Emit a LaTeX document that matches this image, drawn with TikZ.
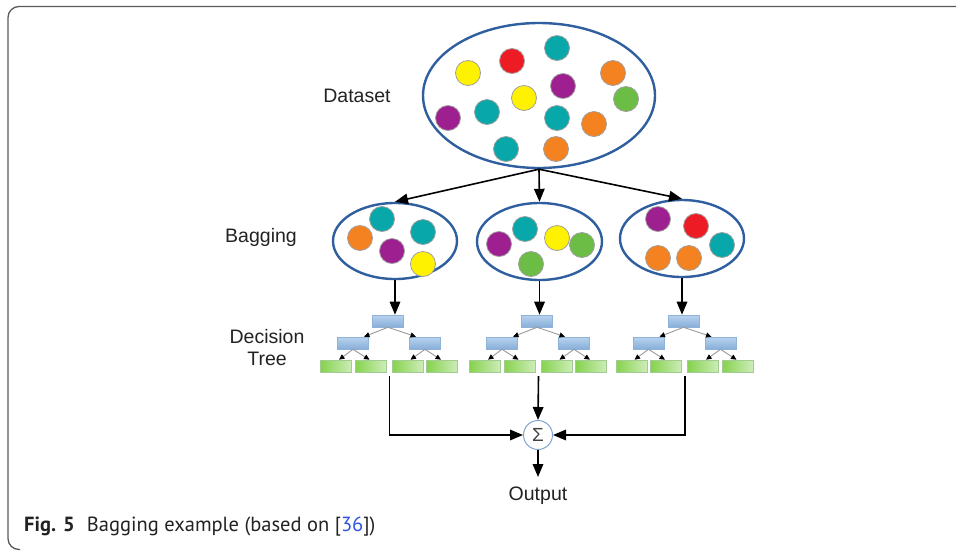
\documentclass[tikz,border=0pt]{standalone}
\usepackage{fontspec}
\setmainfont{Liberation Sans}
\newfontfamily\capfont{PT Sans}
\usetikzlibrary{shapes.geometric,arrows.meta,calc}

\definecolor{ringblue}{HTML}{2F5F9E}
\definecolor{cyel}{HTML}{FFF200}
\definecolor{cred}{HTML}{ED1C24}
\definecolor{cteal}{HTML}{08A8AA}
\definecolor{corg}{HTML}{F58220}
\definecolor{cpur}{HTML}{9E1F8F}
\definecolor{cgrn}{HTML}{6CBD45}
\definecolor{btop}{HTML}{B9D3EE}
\definecolor{bbot}{HTML}{86AEDA}
\definecolor{bedge}{HTML}{8FB2D6}
\definecolor{gleft}{HTML}{86D24E}
\definecolor{gright}{HTML}{CDEDB8}
\definecolor{gedge}{HTML}{A3CC93}
\definecolor{sigedge}{HTML}{7FA6D2}
\definecolor{txt}{HTML}{222222}
\definecolor{capblue}{HTML}{2F55E0}
\definecolor{framegray}{HTML}{5A5A5A}

\tikzset{
  pool/.style={ellipse, draw=ringblue, line width=2.4pt, fill=white, inner sep=0pt},
  dot/.style={circle, draw=gray!75, line width=0.8pt, minimum size=25pt, inner sep=0pt},
  innerbox/.style={rectangle, draw=bedge, line width=0.6pt, top color=btop, bottom color=bbot,
    minimum width=31pt, minimum height=12pt, inner sep=0pt},
  leafbox/.style={rectangle, draw=gedge, line width=0.6pt, left color=gleft, right color=gright,
    minimum width=31pt, minimum height=12pt, inner sep=0pt},
  treearr/.style={draw=gray!80, line width=0.9pt, -{Triangle[length=5.5pt,width=5pt,black]}},
  arr/.style={draw=black, line width=1.6pt, -{Triangle[length=13pt,width=10.5pt]}},
  label/.style={font=\fontsize{19.5}{22}\selectfont, text=txt, align=center},
}

% one decision tree: #1 = name prefix, #2 = x of its root
\newcommand\dectree[2]{%
  \node[innerbox] (#1r) at (#2,321) {};
  \node[innerbox] (#1a) at (#2-35,343) {};
  \node[innerbox] (#1b) at (#2+37,343) {};
  \node[leafbox] (#1l1) at (#2-52,366) {};
  \node[leafbox] (#1l2) at (#2-17.5,366) {};
  \node[leafbox] (#1l3) at (#2+19.5,366) {};
  \node[leafbox] (#1l4) at (#2+54,366) {};
  \draw[treearr] (#1r.south) -- ([xshift=11pt]#1a.north);
  \draw[treearr] (#1r.south) -- ([xshift=-9pt]#1b.north);
  \draw[treearr] (#1a.south) -- ([xshift=3pt]#1l1.north);
  \draw[treearr] (#1a.south) -- ([xshift=-1pt]#1l2.north);
  \draw[treearr] (#1b.south) -- ([xshift=3pt]#1l3.north);
  \draw[treearr] (#1b.south) -- ([xshift=-1pt]#1l4.north);
  \coordinate (#1o) at (#2+1.5,376);
}

\begin{document}
\begin{tikzpicture}[x=1pt,y=-1pt]
\useasboundingbox (0,0) rectangle (956,550);

% figure frame (open on the right)
\draw[framegray, line width=1.3pt, rounded corners=11pt] (956,6.5) -- (8,6.5) -- (8,549.5) -- (20,549.5);

% dataset
\node[pool, minimum width=232pt, minimum height=145pt] (ds) at (539,95.5) {};
\foreach \x/\y/\c [count=\i] in {
  468/73/cyel, 512/61/cred, 557/48/cteal, 613/73/corg, 563/86/cpur,
  626/99/cgrn, 524/98/cyel, 487/112/cteal, 448/118/cpur, 557/118/cteal,
  594/124/corg, 506/149/cteal, 556/149/corg}
  \node[dot, fill=\c] (dsd\i) at (\x,\y) {};

% bootstrap samples
\node[pool, minimum width=124pt, minimum height=76pt] (b1) at (395,241) {};
\node[pool, minimum width=125pt, minimum height=77pt] (b2) at (539.5,241.5) {};
\node[pool, minimum width=124pt, minimum height=77pt] (b3) at (682,238.5) {};

\foreach \x/\y/\c [count=\i] in {
  382/219/cteal, 360/238/corg, 423/232/cteal, 392/251/cpur, 423/264/cyel}
  \node[dot, fill=\c] (bda\i) at (\x,\y) {};
\foreach \x/\y/\c [count=\i] in {
  499/244/cpur, 525/229/cteal, 557/238/cyel, 582/245/cgrn, 531/264/cgrn}
  \node[dot, fill=\c] (bdb\i) at (\x,\y) {};
\foreach \x/\y/\c [count=\i] in {
  658/219/cpur, 696/226/cred, 722/245/cteal, 658/258/corg, 689/258/corg}
  \node[dot, fill=\c] (bdc\i) at (\x,\y) {};

\draw[arr] (ds.south) -- (b1.north);
\draw[arr] (ds.south) -- (b2.north);
\draw[arr] (ds.south) -- (b3.north);

% decision trees
\dectree{L}{388}
\dectree{M}{537}
\dectree{R}{683.5}

\draw[arr] (b1.south) -- (b1.south |- Lr.north);
\draw[arr] (b2.south) -- (b2.south |- Mr.north);
\draw[arr] (b3.south) -- (b3.south |- Rr.north);

% aggregation
\node[circle, draw=sigedge, line width=1pt, fill=white, minimum size=29pt, inner sep=0pt,
      text=txt!85, font=\fontsize{19}{20}\selectfont] (sig) at (538,435) {Σ};
\draw[arr] (Mo) -- (sig.north);
\draw[arr] (Lo) |- (sig.west);
\draw[arr] (Ro) |- (sig.east);
\coordinate (outtip) at (538,477);
\draw[arr] (sig.south) -- (outtip);

% labels
\node[label] (tds) at (357,96) {Dataset};
\node[label] (tbag) at (261,237) {Bagging};
\node[label] (tdt) at (267,348) {Decision\\Tree};
\node[label] (tout) at (538,496) {Output};

% caption
\node[anchor=base west, inner sep=0pt, text=txt, font=\capfont\fontsize{20.5}{24}\selectfont] (cap) at (24,531)
  {\textbf{Fig. 5}\hspace{0.6em}Bagging example (based on [\textcolor{capblue}{36}])};
\end{tikzpicture}
\end{document}
